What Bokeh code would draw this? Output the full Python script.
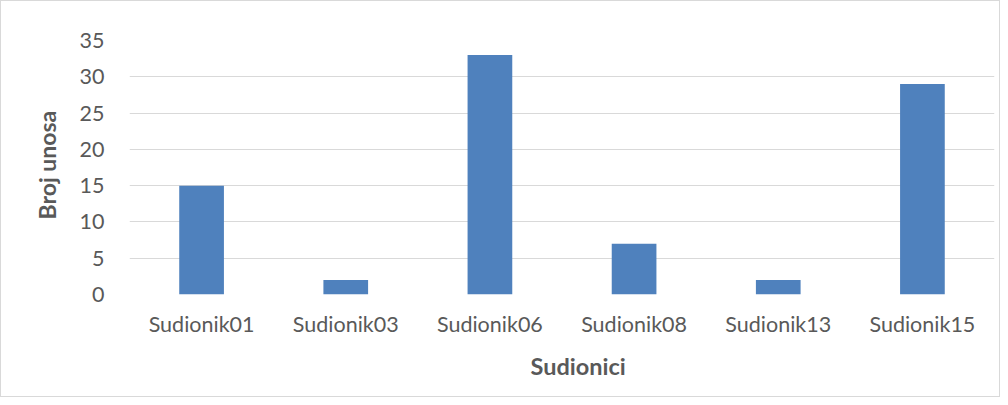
from bokeh.plotting import figure
from bokeh.models import Range1d, SingleIntervalTicker, Title
from bokeh.embed import file_html
from bokeh.resources import INLINE

categories = ["Sudionik01", "Sudionik03", "Sudionik06", "Sudionik08", "Sudionik13", "Sudionik15"]
values = [15, 2, 33, 7, 2, 29]
x_title = "Sudionici"
y_title = "Broj unosa"

FONT = "Lato"
TXT = "#595959"

p = figure(x_range=categories, y_range=Range1d(0, 35), width=1000, height=397,
           output_backend="svg", toolbar_location=None,
           min_border_left=128, min_border_right=7, min_border_top=39, min_border_bottom=104)
p.styles = {"border": "1px solid #d9d9d9"}
p.vbar(x=categories, top=values, width=0.31, color="#4f81bd", line_color=None)

p.outline_line_color = None
p.xgrid.grid_line_color = None
p.ygrid.grid_line_color = "#d9d9d9"
p.ygrid.grid_line_width = 1
p.yaxis.ticker = SingleIntervalTicker(interval=5)
p.x_range.range_padding = 0

for ax in (p.xaxis[0], p.yaxis[0]):
    ax.axis_line_color = None
    ax.major_tick_line_color = None
    ax.minor_tick_line_color = None
    ax.major_tick_out = 0
    ax.major_tick_in = 0
    ax.major_label_text_font = FONT
    ax.major_label_text_font_size = "21.5px"
    ax.major_label_text_color = TXT

p.yaxis.major_label_standoff = 21
p.xaxis.major_label_standoff = 16

xt = Title(text=x_title, align="left", offset=401, standoff=20,
           text_font=FONT, text_font_size="23.5px", text_font_style="bold", text_color=TXT)
p.add_layout(xt, "below")
yt = Title(text=y_title, align="left", offset=75, standoff=31,
           text_font=FONT, text_font_size="23px", text_font_style="bold", text_color=TXT)
p.add_layout(yt, "left")

open("out.html", "w").write(file_html(p, INLINE))
